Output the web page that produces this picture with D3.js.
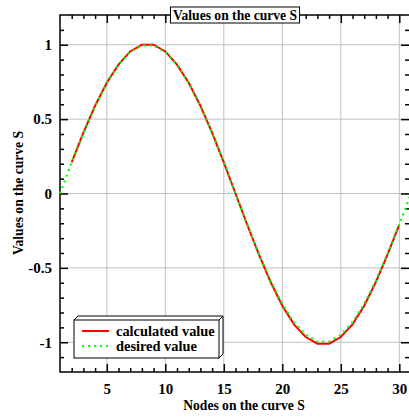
<!DOCTYPE html>
<html>
<head>
<meta charset="utf-8">
<script src="https://cdn.jsdelivr.net/npm/d3@7"></script>
<style>
  body { margin: 0; background: #fff; }
  text { font-family: "Liberation Serif", "Times New Roman", serif; font-weight: bold; }
</style>
</head>
<body>
<svg id="chart" width="409" height="419"></svg>
<script>
// nodes and values
const calcNodes = [2, 3, 4, 5, 6, 7, 8, 9, 10, 11, 12, 13, 14, 15, 16, 17, 18, 19, 20, 21, 22, 23, 24, 25, 26, 27, 28, 29, 30];
const calcValues = [0.21, 0.41, 0.59, 0.745, 0.866, 0.955, 1.0, 1.0, 0.955, 0.866, 0.745, 0.59, 0.41, 0.21, 0.0,
  -0.21, -0.41, -0.595, -0.755, -0.88, -0.965, -1.01, -1.01, -0.965, -0.88, -0.755, -0.595, -0.41, -0.21];
const desiredNodes = [1, 2, 3, 4, 5, 6, 7, 8, 9, 10, 11, 12, 13, 14, 15, 16, 17, 18, 19, 20, 21, 22, 23, 24, 25, 26, 27, 28, 29, 30, 31];
const desiredValues = [0.0, 0.208, 0.407, 0.588, 0.743, 0.866, 0.951, 0.995, 0.995, 0.951, 0.866, 0.743, 0.588, 0.407, 0.208, 0.0,
  -0.208, -0.407, -0.588, -0.743, -0.866, -0.951, -0.995, -0.995, -0.951, -0.866, -0.743, -0.588, -0.407, -0.208, 0.0];
const xTicks = [5, 10, 15, 20, 25, 30];
const yTicks = [-1, -0.5, 0, 0.5, 1];
const yTickLabels = ['-1', '-0.5', '0', '0.5', '1'];
const legendItems = ['calculated value', 'desired value'];

const svg = d3.select('#chart');
const margin = { left: 60, top: 15, right: 411, bottom: 372 };

const x = d3.scaleLinear().domain([1, 31]).range([margin.left, margin.right]);
const y = d3.scaleLinear().domain([-1.2, 1.2]).range([margin.bottom, margin.top]);

// grid
const grid = svg.append('g').attr('stroke', '#c0c0c0').attr('stroke-width', 1);
grid.selectAll('.gx').data(xTicks).join('line')
  .attr('x1', d => x(d)).attr('x2', d => x(d))
  .attr('y1', margin.top).attr('y2', margin.bottom);
grid.selectAll('.gy').data(yTicks).join('line')
  .attr('x1', margin.left).attr('x2', margin.right)
  .attr('y1', d => y(d)).attr('y2', d => y(d));

// axes with inward ticks (major + minor), mirrored on top/right
const minorX = d3.range(2, 31, 1).filter(v => v % 5 !== 0);
const minorY = d3.range(-11, 12, 1).map(v => v / 10).filter(v => Math.abs(v * 2 - Math.round(v * 2)) > 1e-6);

function axisSet(axisFn, scale, translate, values, size, fmt) {
  const a = axisFn(scale).tickValues(values).tickSizeInner(-size).tickSizeOuter(0).tickPadding(8);
  if (fmt) a.tickFormat(fmt); else a.tickFormat('');
  const g = svg.append('g').attr('transform', translate).call(a);
  g.select('.domain').remove();
  g.selectAll('line').attr('stroke', '#000').attr('stroke-width', 1.5);
  return g;
}

const bx = axisSet(d3.axisBottom, x, `translate(0,${margin.bottom})`, xTicks, 8, d => d);
bx.selectAll('text').attr('font-size', 15).attr('fill', '#000').attr('dy', '0.9em');
axisSet(d3.axisBottom, x, `translate(0,${margin.bottom})`, minorX, 4);
axisSet(d3.axisTop, x, `translate(0,${margin.top})`, xTicks, 8);
axisSet(d3.axisTop, x, `translate(0,${margin.top})`, minorX, 4);

const ly = axisSet(d3.axisLeft, y, `translate(${margin.left},0)`, yTicks, 8, (d, i) => yTickLabels[i]);
ly.selectAll('text').attr('font-size', 15).attr('fill', '#000');
axisSet(d3.axisLeft, y, `translate(${margin.left},0)`, minorY, 4);
axisSet(d3.axisRight, y, `translate(${margin.right - 2},0)`, yTicks, 8);
axisSet(d3.axisRight, y, `translate(${margin.right - 2},0)`, minorY, 4);

// frame
svg.append('rect')
  .attr('x', margin.left).attr('y', margin.top)
  .attr('width', margin.right - margin.left).attr('height', margin.bottom - margin.top)
  .attr('fill', 'none').attr('stroke', '#000').attr('stroke-width', 1.5);

// curves
const line = d3.line().x(d => x(d[0])).y(d => y(d[1]));
svg.append('path')
  .datum(calcNodes.map((n, i) => [n, calcValues[i]]))
  .attr('d', line).attr('fill', 'none').attr('stroke', '#ff0000').attr('stroke-width', 2);
svg.append('path')
  .datum(desiredNodes.map((n, i) => [n, desiredValues[i]]))
  .attr('d', line).attr('fill', 'none').attr('stroke', '#00ff00').attr('stroke-width', 2.2)
  .attr('stroke-dasharray', '2,4');

// title box
const title = svg.append('g');
const tt = title.append('text').attr('x', 235).attr('y', 20).attr('text-anchor', 'middle')
  .attr('font-size', 13.6).text('Values on the curve S');
const tb = tt.node().getBBox();
title.insert('rect', 'text')
  .attr('x', tb.x - 2.5).attr('y', 7).attr('width', tb.width + 5).attr('height', 16)
  .attr('fill', '#fff').attr('stroke', '#000').attr('stroke-width', 1);

// axis titles
svg.append('text').attr('x', 244).attr('y', 410).attr('text-anchor', 'middle')
  .attr('font-size', 13.6).text('Nodes on the curve S');
svg.append('text').attr('transform', 'translate(23,193) rotate(-90)').attr('text-anchor', 'middle')
  .attr('font-size', 13.6).text('Values on the curve S');

// legend with 3D box
const lg = svg.append('g');
const L = { x0: 74, y0: 320, x1: 219, y1: 358, d: 4 };
lg.append('path')
  .attr('d', `M${L.x0},${L.y0} L${L.x0 + L.d},${L.y0 - L.d} L${L.x1 + L.d},${L.y0 - L.d} L${L.x1 + L.d},${L.y1 - L.d} L${L.x1},${L.y1} Z`)
  .attr('fill', '#fff').attr('stroke', '#000').attr('stroke-width', 1);
lg.append('rect').attr('x', L.x0).attr('y', L.y0).attr('width', L.x1 - L.x0).attr('height', L.y1 - L.y0)
  .attr('fill', '#fff').attr('stroke', '#000').attr('stroke-width', 1);
lg.append('line').attr('x1', L.x1).attr('y1', L.y0).attr('x2', L.x1 + L.d).attr('y2', L.y0 - L.d)
  .attr('stroke', '#000');

const legStroke = ['#ff0000', '#00ff00'];
const legDash = [null, '2,4'];
legendItems.forEach((name, i) => {
  const yy = 331 + i * 15;
  lg.append('line').attr('x1', 82).attr('x2', 109).attr('y1', yy).attr('y2', yy)
    .attr('stroke', legStroke[i]).attr('stroke-width', 2).attr('stroke-dasharray', legDash[i]);
  lg.append('text').attr('x', 116).attr('y', yy + 4.5).attr('font-size', 14.4).text(name);
});
</script>
</body>
</html>
